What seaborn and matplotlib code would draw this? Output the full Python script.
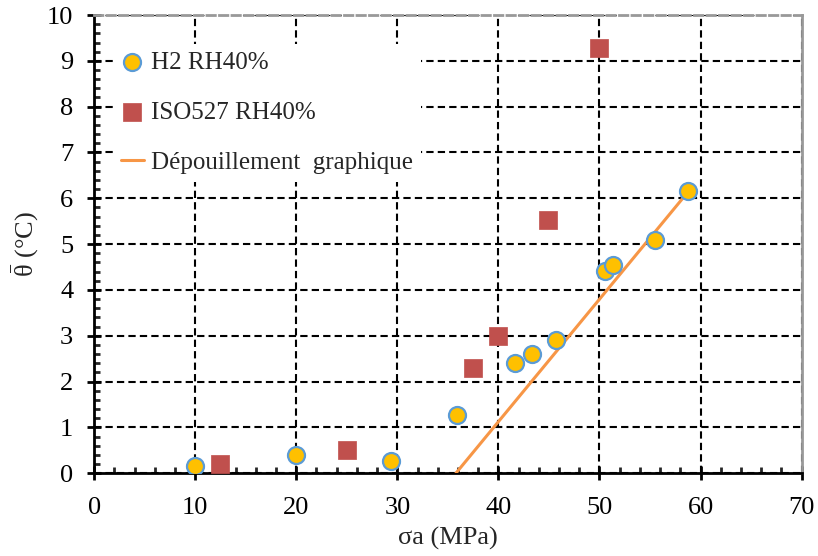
import numpy as np
import pandas as pd
import matplotlib
matplotlib.use("Agg")
import matplotlib.pyplot as plt
import seaborn as sns
from matplotlib.ticker import MultipleLocator

# data
h2_sigma = [10.0, 20.0, 29.4, 35.9, 41.6, 43.3, 45.7, 50.5, 51.3, 55.5, 58.8]
h2_theta = [0.15, 0.40, 0.27, 1.27, 2.40, 2.60, 2.90, 4.41, 4.54, 5.09, 6.15]
iso_sigma = [12.5, 25.0, 37.5, 40.0, 44.9, 50.0]
iso_theta = [0.20, 0.50, 2.30, 2.99, 5.52, 9.28]
fit_sigma = [35.8, 58.8]
fit_theta = [0.0, 6.15]

x_ticks = [0, 10, 20, 30, 40, 50, 60, 70]
y_ticks = [0, 1, 2, 3, 4, 5, 6, 7, 8, 9, 10]

df_h2 = pd.DataFrame({'sigma': h2_sigma, 'theta': h2_theta})
df_iso = pd.DataFrame({'sigma': iso_sigma, 'theta': iso_theta})
df_fit = pd.DataFrame({'sigma': fit_sigma, 'theta': fit_theta})

sns.set_style("white")
plt.rcParams['font.family'] = ['Liberation Serif', 'DejaVu Serif']
plt.rcParams['mathtext.fontset'] = 'custom'
plt.rcParams['mathtext.rm'] = 'Liberation Serif'
plt.rcParams['mathtext.it'] = 'Liberation Serif'

fig, ax = plt.subplots(figsize=(8.18, 5.56), dpi=100)
fig.subplots_adjust(left=0.115, right=0.980, top=0.973, bottom=0.149)

# grid
ax.grid(True, which='major', color='black', linestyle=(0, (3.5, 2)), linewidth=1.5)
ax.set_axisbelow(True)

sns.lineplot(data=df_fit, x='sigma', y='theta', ax=ax, color='#F79646',
             linewidth=2.2, label='Dépouillement  graphique', zorder=3)
sns.scatterplot(data=df_h2, x='sigma', y='theta', ax=ax, marker='o', s=150,
                color='#FFC000', edgecolor='#5B9BD5', linewidth=1.6,
                label='H2 RH40%', zorder=4)
sns.scatterplot(data=df_iso, x='sigma', y='theta', ax=ax, marker='s', s=150,
                color='#C0504D', edgecolor='#C0504D', linewidth=0.5,
                label='ISO527 RH40%', zorder=4)

ax.set_xlim(0, 70)
ax.set_ylim(0, 10)
ax.set_xticks(x_ticks)
ax.set_yticks(y_ticks)
ax.xaxis.set_minor_locator(MultipleLocator(2))
ax.yaxis.set_minor_locator(MultipleLocator(0.2))
ax.tick_params(which='major', direction='inout', length=10, width=2,
               labelsize=19, colors='black', bottom=True, left=True)
ax.tick_params(axis='y', which='major', pad=10)
ax.tick_params(axis='x', which='major', pad=12)
ax.tick_params(which='minor', direction='in', length=4.5, width=2,
               bottom=True, left=True)

for side in ['left', 'bottom']:
    ax.spines[side].set_color('black')
    ax.spines[side].set_linewidth(2)
ax.spines['top'].set_color('#999999')
ax.spines['top'].set_linewidth(2)
ax.spines['top'].set_linestyle((0, (3, 1.5)))
ax.spines['right'].set_color('#999999')
ax.spines['right'].set_linewidth(2)

ax.set_xlabel('σa (MPa)', fontsize=19, labelpad=6)
ax.set_ylabel(r'$\bar{\mathrm{\theta}}$ (°C)', fontsize=19, labelpad=4)

handles, labels = ax.get_legend_handles_labels()
order = [labels.index('H2 RH40%'), labels.index('ISO527 RH40%'),
         labels.index('Dépouillement  graphique')]
leg = ax.legend([handles[i] for i in order], [labels[i] for i in order],
                loc='upper left', bbox_to_anchor=(0.01, 0.964), fontsize=18,
                frameon=True, facecolor='white', edgecolor='none', framealpha=1,
                labelspacing=1.1, handlelength=0.9, handletextpad=0.3,
                borderpad=0.3)

fig.savefig('out.png', dpi=100)
